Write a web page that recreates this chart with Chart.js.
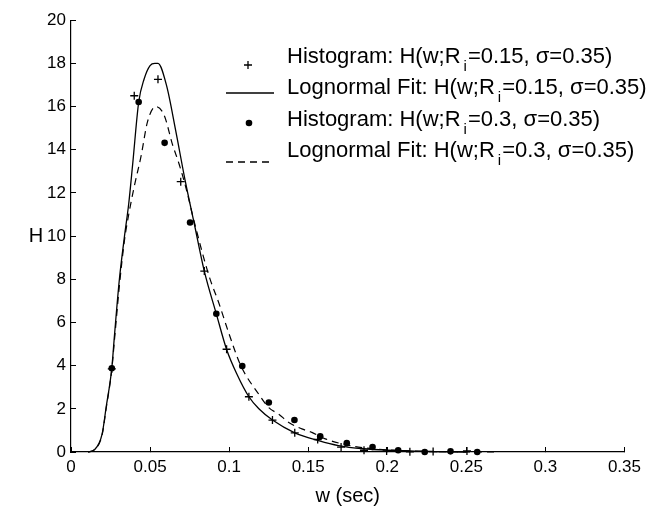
<!DOCTYPE html>
<html>
<head>
<meta charset="utf-8">
<script src="https://cdn.jsdelivr.net/npm/chart.js@4.4.1/dist/chart.umd.min.js"></script>
<style>
  html, body { margin: 0; padding: 0; background: #fff; }
  #wrap { width: 651px; height: 510px; }
</style>
</head>
<body>
<div id="wrap"><canvas id="histChart"></canvas></div>
<script>
// histogram, R_i = 0.15 (plus markers)
const histW15 = [0.0258, 0.0400, 0.0550, 0.0694, 0.0843, 0.0984, 0.1125, 0.1274, 0.1415, 0.1560, 0.1708, 0.1853, 0.1996, 0.2143, 0.2290, 0.2504];
const histH15 = [3.85, 16.50, 17.26, 12.52, 8.38, 4.76, 2.56, 1.48, 0.89, 0.58, 0.23, 0.08, 0.05, 0.01, 0.02, 0.05];

// lognormal fit, R_i = 0.15 (solid)
const fitW15 = [0.0107, 0.0149, 0.0197, 0.0222, 0.0258, 0.0275, 0.0306, 0.0338, 0.0365, 0.0390, 0.0428, 0.0463, 0.0500, 0.0530, 0.0550, 0.0604, 0.0663, 0.0722, 0.0778, 0.0843, 0.0919, 0.0984, 0.1051, 0.1125, 0.1188, 0.1274, 0.1415, 0.1566, 0.1691, 0.1850, 0.2000, 0.2200, 0.2500];
const fitH15 = [0, 0.11, 0.84, 2.06, 3.88, 5.41, 8.0, 9.98, 11.5, 13.33, 16.2, 17.29, 17.9, 18.0, 18.0, 16.98, 14.85, 12.57, 10.63, 8.38, 6.40, 4.75, 3.58, 2.56, 2.0, 1.48, 0.89, 0.53, 0.3, 0.15, 0.08, 0.03, 0];

// histogram, R_i = 0.3 (dots)
const histW30 = [0.0258, 0.0428, 0.0592, 0.0753, 0.0919, 0.1083, 0.1251, 0.1413, 0.1576, 0.1744, 0.1907, 0.2069, 0.2237, 0.2400, 0.2569];
const histH30 = [3.88, 16.21, 14.32, 10.63, 6.40, 3.98, 2.29, 1.48, 0.73, 0.41, 0.23, 0.08, 0.0, 0.03, 0.0];

// lognormal fit, R_i = 0.3 (dashed)
const fitW30 = [0.0107, 0.0149, 0.0197, 0.0222, 0.0258, 0.0275, 0.0306, 0.0338, 0.0365, 0.0400, 0.0443, 0.0484, 0.0537, 0.0589, 0.0642, 0.0684, 0.0726, 0.0778, 0.0873, 0.0935, 0.0999, 0.1075, 0.1188, 0.1250, 0.1314, 0.1377, 0.1460, 0.1523, 0.1608, 0.1670, 0.1817, 0.2000, 0.2200, 0.2450, 0.2680];
const fitH30 = [0, 0.11, 0.80, 2.0, 3.82, 5.2, 7.7, 9.8, 11.0, 12.3, 13.7, 15.3, 16.0, 15.6, 14.24, 13.33, 12.26, 10.7, 8.15, 6.9, 5.48, 3.98, 2.67, 2.06, 1.75, 1.37, 1.07, 0.91, 0.61, 0.46, 0.23, 0.1, 0.04, 0.01, 0];

const xTicks = [0, 0.05, 0.1, 0.15, 0.2, 0.25, 0.3, 0.35];
const xTickLabels = ["0", "0.05", "0.1", "0.15", "0.2", "0.25", "0.3", "0.35"];
const yTicks = [0, 2, 4, 6, 8, 10, 12, 14, 16, 18, 20];
const yTickLabels = ["0", "2", "4", "6", "8", "10", "12", "14", "16", "18", "20"];

// legend text: before subscript, subscript, after subscript
const legendParts = [
  ["Histogram: H(w;R", "i", "=0.15, σ=0.35)"],
  ["Lognormal Fit: H(w;R", "i", "=0.15, σ=0.35)"],
  ["Histogram: H(w;R", "i", "=0.3, σ=0.35)"],
  ["Lognormal Fit: H(w;R", "i", "=0.3, σ=0.35)"],
];
const xTitle = "w (sec)";
const yTitle = "H";

const FONT = "'Liberation Sans', Arial, Helvetica, sans-serif";

const toPoints = (xs, ys) => xs.map((x, i) => ({ x: x, y: ys[i] }));

// legend drawn by hand, matlab style
const matlabLegend = {
  id: "matlabLegend",
  afterDraw: (chart) => {
    const ctx = chart.ctx;
    const textRows = [57, 88, 120, 151];
    const markRows = [65, 93, 123, 162];
    const textX = 287;
    ctx.save();
    ctx.fillStyle = "#000";
    ctx.strokeStyle = "#000";
    chart.data.datasets.forEach((ds, i) => {
      const my = markRows[i];
      ctx.lineWidth = 1.3;
      if (ds.showLine) {
        ctx.setLineDash(ds.borderDash || []);
        ctx.beginPath();
        ctx.moveTo(226, my);
        ctx.lineTo(274, my);
        ctx.stroke();
        ctx.setLineDash([]);
      } else if (ds.pointStyle === "cross") {
        ctx.beginPath();
        ctx.moveTo(244, my);
        ctx.lineTo(252, my);
        ctx.moveTo(248, my - 4);
        ctx.lineTo(248, my + 4);
        ctx.stroke();
      } else {
        ctx.beginPath();
        ctx.arc(249, my, 3.3, 0, Math.PI * 2);
        ctx.fill();
      }

      const parts = legendParts[i];
      const y = textRows[i];
      let x = textX;
      ctx.textBaseline = "middle";
      ctx.textAlign = "left";
      ctx.font = "22px " + FONT;
      ctx.fillText(parts[0], x, y);
      x += ctx.measureText(parts[0]).width + 3;
      ctx.font = "15px " + FONT;
      ctx.fillText(parts[1], x, y + 10);
      x += ctx.measureText(parts[1]).width + 1;
      ctx.font = "22px " + FONT;
      ctx.fillText(parts[2], x, y);
    });

    // y label is not rotated in the original
    ctx.font = "20px " + FONT;
    ctx.textAlign = "center";
    ctx.textBaseline = "middle";
    ctx.fillText(yTitle, 36, (chart.chartArea.top + chart.chartArea.bottom) / 2);
    ctx.restore();
  },
};

const ctx = document.getElementById("histChart").getContext("2d");
const myChart = new Chart(ctx, {
  type: "scatter",
  data: {
    datasets: [
      {
        label: legendParts[0].join(""),
        data: toPoints(histW15, histH15),
        pointStyle: "cross",
        pointRadius: 4,
        pointBorderWidth: 1.3,
        borderColor: "#000",
        backgroundColor: "#000",
        showLine: false,
        clip: false,
      },
      {
        label: legendParts[1].join(""),
        data: toPoints(fitW15, fitH15),
        showLine: true,
        pointRadius: 0,
        borderColor: "#000",
        borderWidth: 1.3,
        cubicInterpolationMode: "monotone",
        clip: false,
      },
      {
        label: legendParts[2].join(""),
        data: toPoints(histW30, histH30),
        pointStyle: "circle",
        pointRadius: 3.3,
        pointBorderWidth: 0,
        borderColor: "#000",
        backgroundColor: "#000",
        showLine: false,
        clip: false,
      },
      {
        label: legendParts[3].join(""),
        data: toPoints(fitW30, fitH30),
        showLine: true,
        pointRadius: 0,
        borderColor: "#000",
        borderWidth: 1.2,
        borderDash: [7, 5],
        cubicInterpolationMode: "monotone",
        clip: false,
      },
    ],
  },
  options: {
    responsive: true,
    maintainAspectRatio: false,
    animation: false,
    devicePixelRatio: 1,
    layout: { padding: { top: 14, right: 24, left: 0, bottom: 0 } },
    plugins: {
      legend: { display: false },
      tooltip: { enabled: false },
    },
    scales: {
      x: {
        type: "linear",
        min: 0,
        max: 0.35,
        afterBuildTicks: (scale) => {
          scale.ticks = xTicks.map((v) => ({ value: v }));
        },
        afterFit: (scale) => {
          scale.height = 58;
        },
        ticks: {
          color: "#000",
          font: { family: FONT, size: 17 },
          padding: 10,
          maxRotation: 0,
          autoSkip: false,
          callback: (value, index) => xTickLabels[index],
        },
        grid: {
          drawOnChartArea: false,
          color: "#000",
          tickLength: -5,
        },
        border: { display: true, color: "#000", width: 1.2 },
        title: {
          display: true,
          text: xTitle,
          color: "#000",
          font: { family: FONT, size: 20 },
          padding: { top: 0, bottom: 2 },
        },
      },
      y: {
        type: "linear",
        min: 0,
        max: 20,
        afterBuildTicks: (scale) => {
          scale.ticks = yTicks.map((v) => ({ value: v }));
        },
        afterFit: (scale) => {
          scale.width = 71;
        },
        ticks: {
          color: "#000",
          font: { family: FONT, size: 17 },
          padding: 10,
          autoSkip: false,
          callback: (value, index) => yTickLabels[index],
        },
        grid: {
          drawOnChartArea: false,
          color: "#000",
          tickLength: -5,
        },
        border: { display: true, color: "#000", width: 1.2 },
      },
    },
  },
  plugins: [matlabLegend],
});
</script>
</body>
</html>
